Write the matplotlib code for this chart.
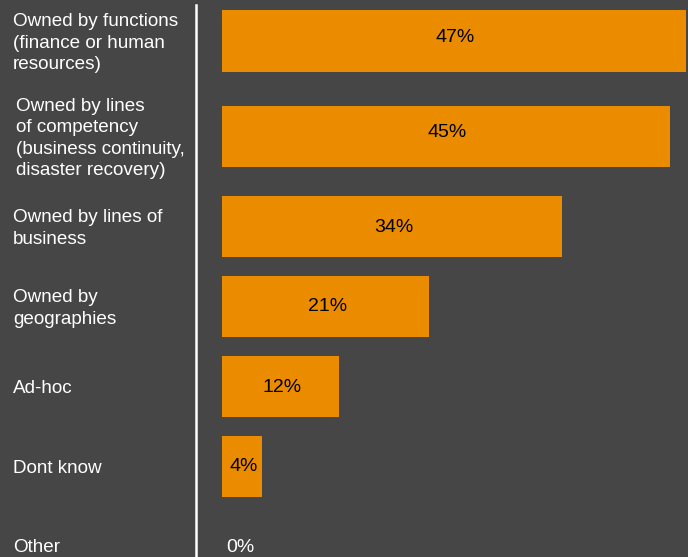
import matplotlib.pyplot as plt
import matplotlib.transforms as mtrans

labels = ["Owned by functions\n(finance or human\nresources)",
          "Owned by lines\nof competency\n(business continuity,\ndisaster recovery)",
          "Owned by lines of\nbusiness",
          "Owned by\ngeographies",
          "Ad-hoc",
          "Dont know",
          "Other"]
values = [47, 45.4, 34.5, 21, 11.8, 4, 0]

# layout (pixel rows of each bar centre)
ypos = [41, 136.5, 226.5, 306.5, 386.5, 466.5, 546]
label_x = [13, 16, 13, 13, 13, 13, 13]
val_dy = [-4, -4, 1, 0, 1, 0, 1]

bg = "#464646"
orange = "#EB8C00"
plt.rcParams['font.family'] = ['Liberation Sans', 'DejaVu Sans']

fig = plt.figure(figsize=(6.88, 5.57), dpi=100, facecolor=bg)
ax = fig.add_axes([222 / 688, 0, 1 - 222 / 688, 1])
ax.set_facecolor(bg)
ax.set_xlim(0, 47.3)
ax.set_ylim(557, 0)
ax.barh(ypos, values, height=61.5, color=orange, left=0.05)
ax.axis('off')

for y, v, dy in zip(ypos, values, val_dy):
    if v > 0:
        ax.text(v / 2 + 0.2, y + dy, f"{v:.0f}%", ha='center', va='center', fontsize=14, color='black')
    else:
        ax.text(1.9, y + dy, f"{v:.0f}%", ha='center', va='center', fontsize=14, color='white')

tr = mtrans.blended_transform_factory(fig.transFigure, ax.transData)
for lab, y, x in zip(labels, ypos, label_x):
    ax.text(x / 688, y + 2, lab, transform=tr, ha='left', va='center', fontsize=13.6,
            color='white', linespacing=1.35)

fig.add_artist(plt.Line2D([195.5 / 688, 195.5 / 688], [0, 1 - 5 / 557],
                          color='white', lw=1.8))

fig.savefig("out.png", dpi=100, facecolor=bg)
